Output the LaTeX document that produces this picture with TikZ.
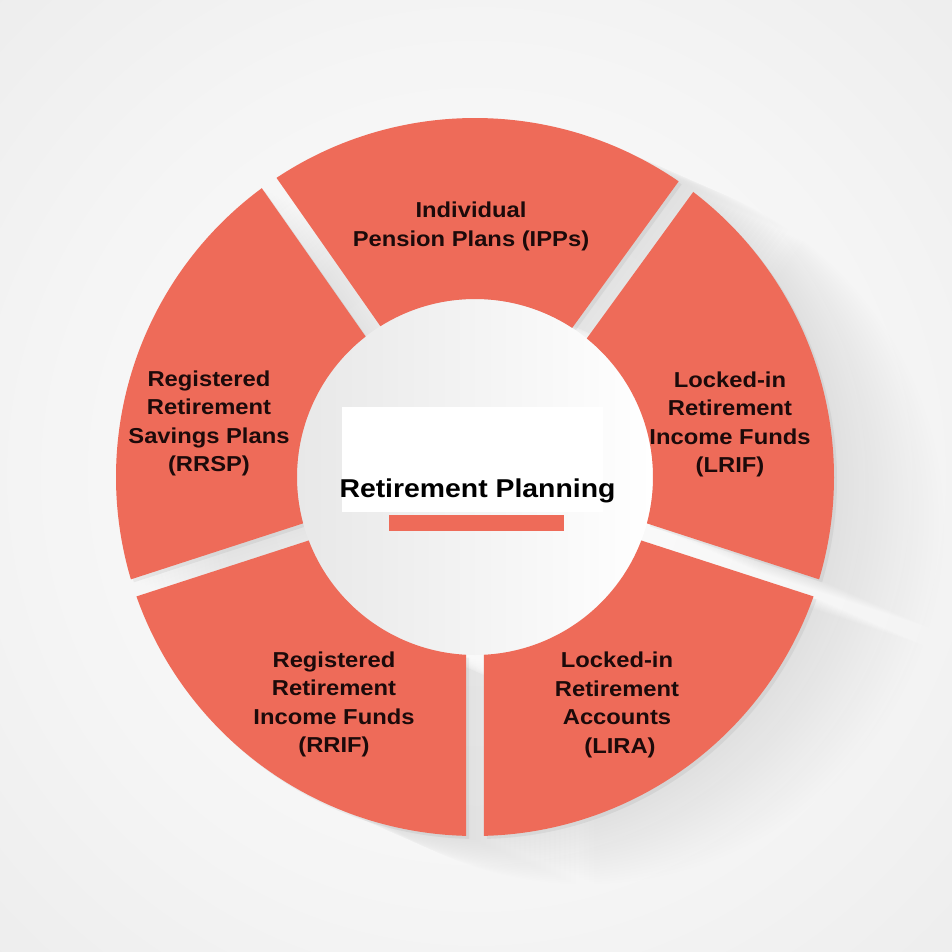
\documentclass[tikz,border=0pt]{standalone}
\usepackage{fontspec}
\setmainfont{Liberation Sans}
\newfontfamily\widefont[FakeStretch=1.1]{Liberation Sans}
\definecolor{seg}{RGB}{238,107,89}
\definecolor{txt}{RGB}{28,10,10}
\definecolor{bgA}{RGB}{252,252,252}
\definecolor{bgB}{RGB}{245,245,245}
\definecolor{bgC}{RGB}{232,232,232}
\definecolor{bgD}{RGB}{216,216,216}
\definecolor{discL}{RGB}{232,232,232}
\pgfdeclareradialshading{bgshade}{\pgfpoint{0bp}{0bp}}{color(0bp)=(bgA); color(22bp)=(bgB); color(45bp)=(bgC); color(71bp)=(bgD)}
\def\RR{359}
\def\rr{178}
\def\hh{9}
\pgfmathsetmacro\dR{asin(\hh/\RR)}
\pgfmathsetmacro\dr{asin(\hh/\rr)}
\def\ringseg#1#2{({#1+\dR}:\RR) arc[start angle={#1+\dR}, end angle={#2-\dR}, radius=\RR] -- ({#2-\dr}:\rr) arc[start angle={#2-\dr}, end angle={#1+\dr}, radius=\rr] -- cycle}
\begin{document}
\begin{tikzpicture}[x=0.5pt,y=0.5pt,
  lbl/.style={font=\widefont\fontsize{10.8}{14.25}\selectfont\bfseries, text=txt, align=center, inner sep=0pt},
  segfill/.style={fill=seg}]
\useasboundingbox (-475,-475) rectangle (477,477);
\shade[shading=bgshade] (-475,-475) rectangle (477,477);
% long shadow
\foreach \k in {1,...,22} {
  \fill[black, opacity=0.004, shift={(\k*5,-\k*2.2)}]
    \ringseg{54}{125} \ringseg{125}{198} \ringseg{198}{270} \ringseg{270}{342} \ringseg{342}{414};
}
\fill[black, opacity=0.05, shift={(3,-3)}]
    \ringseg{54}{125} \ringseg{125}{198} \ringseg{198}{270} \ringseg{270}{342} \ringseg{342}{414};
% inner disc
\shade[left color=discL, right color=white] (0,0) circle[radius=\rr];
% segments
\fill[segfill] \ringseg{54}{125};
\fill[segfill] \ringseg{125}{198};
\fill[segfill] \ringseg{198}{270};
\fill[segfill] \ringseg{270}{342};
\fill[segfill] \ringseg{342}{414};
% centre
\fill[white] (-133,-35) rectangle (128,70);
\node[anchor=base, font=\widefont\fontsize{12.9}{15}\selectfont\bfseries, text=black, inner sep=0pt] (title) at (2.5,-21) {Retirement Planning};
\fill[seg] (-86,-54) rectangle (89,-38);
% labels
\node[lbl] (ipp) at (-4,250.5) {Individual\\Pension Plans (IPPs)};
\node[lbl] (rrsp) at (-266,53.5) {Registered\\Retirement\\Savings Plans\\(RRSP)};
\node[lbl] (lrif) at (255,52.5) {Locked-in\\Retirement\\Income Funds\\(LRIF)};
\node[lbl] (rrif) at (-141,-227.5) {Registered\\Retirement\\Income Funds\\(RRIF)};
\node[lbl] (lira) at (142,-228) {Locked-in\\Retirement\\Accounts\\\hspace*{3pt}(LIRA)};
\end{tikzpicture}
\end{document}
